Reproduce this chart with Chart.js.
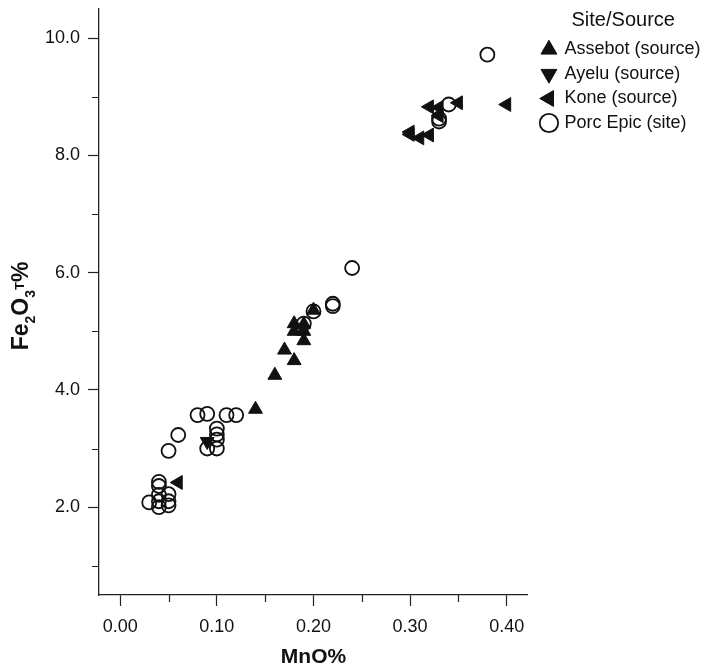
<!DOCTYPE html>
<html>
<head>
<meta charset="utf-8">
<script src="https://cdn.jsdelivr.net/npm/chart.js@4.4.0/dist/chart.umd.min.js"></script>
<style>
html,body{margin:0;padding:0;background:#fff;}
#wrap{width:709px;height:671px;}
</style>
</head>
<body>
<div id="wrap"><canvas id="c" width="709" height="671"></canvas></div>
<script>
// ---- data ----
const assebotX = [0.20, 0.18, 0.19, 0.18, 0.19, 0.19, 0.17, 0.18, 0.16, 0.14];
const assebotY = [5.36, 5.13, 5.12, 5.00, 5.00, 4.84, 4.68, 4.50, 4.25, 3.67];

const ayeluX = [0.09];
const ayeluY = [3.12];

const koneX = [0.06, 0.30, 0.30, 0.31, 0.32, 0.32, 0.33, 0.33, 0.35, 0.40];
const koneY = [2.42, 8.40, 8.36, 8.30, 8.35, 8.83, 8.82, 8.68, 8.90, 8.87];

const porcX = [0.04, 0.04, 0.04, 0.04, 0.04, 0.05, 0.05, 0.05, 0.03,
               0.05, 0.06, 0.08, 0.09, 0.11, 0.12, 0.10, 0.10, 0.10, 0.09, 0.10,
               0.19, 0.20, 0.22, 0.22, 0.24,
               0.33, 0.33, 0.34, 0.38];
const porcY = [2.43, 2.36, 2.21, 2.10, 2.00, 2.22, 2.10, 2.03, 2.08,
               2.96, 3.23, 3.57, 3.59, 3.57, 3.57, 3.34, 3.24, 3.15, 3.00, 3.00,
               5.13, 5.34, 5.47, 5.43, 6.08,
               8.58, 8.63, 8.87, 9.72];

const xTicks = [0.00, 0.10, 0.20, 0.30, 0.40];
const xMinorTicks = [0.05, 0.15, 0.25, 0.35];
const yTicks = [2.0, 4.0, 6.0, 8.0, 10.0];
const yMinorTicks = [1.0, 3.0, 5.0, 7.0, 9.0];

const seriesNames = ['Assebot (source)', 'Ayelu (source)', 'Kone (source)', 'Porc Epic (site)'];
const legendTitle = 'Site/Source';
const xTitle = 'MnO%';

// ---- build ----
const pts = (xs, ys) => xs.map((x, i) => ({x: x, y: ys[i]}));
const INK = '#111';
const FONT = "'Liberation Sans', Arial, Helvetica, sans-serif";

const minorTicksPlugin = {
  id: 'minorTicks',
  afterDraw(chart) {
    const {ctx, scales: {x, y}, chartArea} = chart;
    ctx.save();
    ctx.strokeStyle = '#222';
    ctx.lineWidth = 1.2;
    ctx.beginPath();
    xMinorTicks.forEach(v => {
      const px = Math.round(x.getPixelForValue(v)) + 0.5;
      ctx.moveTo(px, chartArea.bottom);
      ctx.lineTo(px, chartArea.bottom + 7);
    });
    yMinorTicks.forEach(v => {
      const py = Math.round(y.getPixelForValue(v)) + 0.5;
      ctx.moveTo(chartArea.left, py);
      ctx.lineTo(chartArea.left - 7, py);
    });
    ctx.stroke();
    ctx.restore();
  }
};

// move the legend a little away from the plot area (as in the reference)
const legendShiftPlugin = {
  id: 'legendShift',
  afterLayout(chart) {
    if (chart.legend) { chart.legend.left += 8; }
  }
};

const yTitlePlugin = {
  id: 'yTitle',
  afterDraw(chart) {
    const {ctx} = chart;
    const parts = [
      {t: 'Fe', s: 23, dy: 0},
      {t: '2', s: 14, dy: 7},
      {t: 'O', s: 23, dy: 0},
      {t: '3', s: 14, dy: 7},
      {t: 'T', s: 13, dy: -4},
      {t: '%', s: 23, dy: 0}
    ];
    ctx.save();
    let total = 0;
    parts.forEach(p => { ctx.font = 'bold ' + p.s + 'px ' + FONT; p.w = ctx.measureText(p.t).width; total += p.w; });
    ctx.translate(28, 306);
    ctx.rotate(-Math.PI / 2);
    ctx.fillStyle = INK;
    ctx.textBaseline = 'alphabetic';
    ctx.textAlign = 'left';
    let cx = -total / 2;
    parts.forEach(p => {
      ctx.font = 'bold ' + p.s + 'px ' + FONT;
      ctx.fillText(p.t, cx, p.dy);
      cx += p.w;
    });
    ctx.restore();
  }
};

new Chart(document.getElementById('c'), {
  type: 'scatter',
  data: {
    datasets: [
      {label: seriesNames[0], data: pts(assebotX, assebotY), pointStyle: 'triangle', rotation: 0,
       pointRadius: 8, backgroundColor: INK, borderColor: INK, borderWidth: 1},
      {label: seriesNames[1], data: pts(ayeluX, ayeluY), pointStyle: 'triangle', rotation: 180,
       pointRadius: 8, backgroundColor: INK, borderColor: INK, borderWidth: 1},
      {label: seriesNames[2], data: pts(koneX, koneY), pointStyle: 'triangle', rotation: -90,
       pointRadius: 8, backgroundColor: INK, borderColor: INK, borderWidth: 1},
      {label: seriesNames[3], data: pts(porcX, porcY), pointStyle: 'circle',
       pointRadius: 7, backgroundColor: 'rgba(0,0,0,0)', borderColor: INK, borderWidth: 1.8}
    ]
  },
  options: {
    responsive: false,
    animation: false,
    events: [],
    layout: {padding: {top: 8, right: 6.5, bottom: 0, left: 0}},
    plugins: {
      tooltip: {enabled: false},
      legend: {
        position: 'right',
        align: 'start',
        title: {display: true, text: legendTitle, color: INK,
                font: {family: FONT, size: 20}, padding: {top: 2, bottom: 0}},
        labels: {usePointStyle: true, boxHeight: 13, boxWidth: 13, padding: 6.5,
                 color: INK, font: {family: FONT, size: 18}}
      }
    },
    scales: {
      x: {
        type: 'linear', position: 'bottom', min: -0.022, max: 0.422,
        afterBuildTicks: s => { s.ticks = xTicks.map(v => ({value: v})); },
        afterFit: s => { s.height = 76; s.paddingLeft = 0; s.paddingRight = 0; },
        ticks: {color: INK, font: {family: FONT, size: 18}, padding: 10,
                maxRotation: 0, autoSkip: false, callback: v => Number(v).toFixed(2)},
        grid: {display: true, drawOnChartArea: false, drawTicks: true, tickLength: 11,
               tickColor: '#222', tickWidth: 1.2},
        border: {display: true, color: '#222', width: 1.3},
        title: {display: true, text: xTitle, color: INK,
                font: {family: FONT, size: 21, weight: 'bold', lineHeight: 1.2}, padding: {top: 0, bottom: 1}}
      },
      y: {
        type: 'linear', position: 'left', min: 0.5, max: 10.5,
        afterBuildTicks: s => { s.ticks = yTicks.map(v => ({value: v})); },
        afterFit: s => { s.width = 99; s.paddingTop = 0; s.paddingBottom = 0; },
        ticks: {color: INK, font: {family: FONT, size: 18}, padding: 8,
                autoSkip: false, callback: v => Number(v).toFixed(1)},
        grid: {display: true, drawOnChartArea: false, drawTicks: true, tickLength: 11,
               tickColor: '#222', tickWidth: 1.2},
        border: {display: true, color: '#222', width: 1.3}
      }
    }
  },
  plugins: [minorTicksPlugin, yTitlePlugin, legendShiftPlugin]
});
</script>
</body>
</html>
